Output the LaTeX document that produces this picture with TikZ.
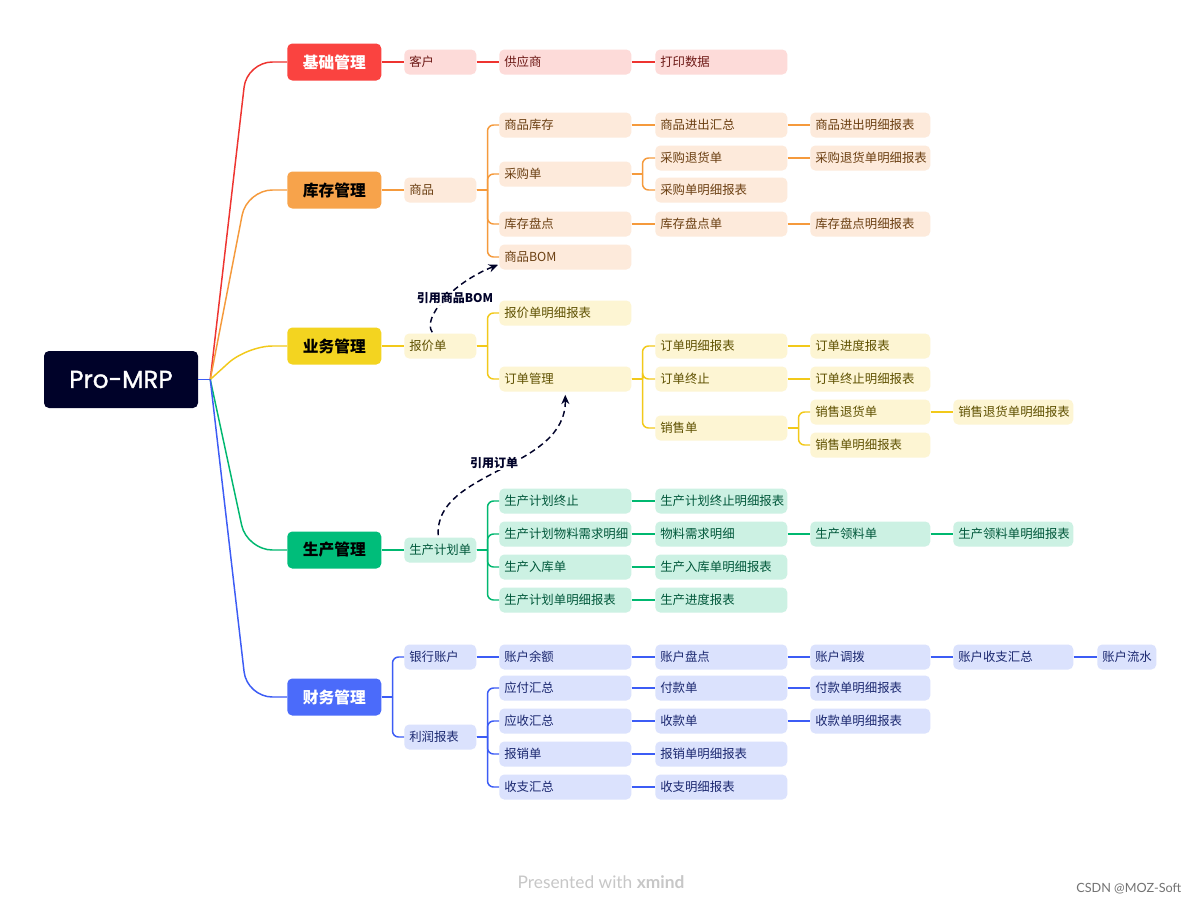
\documentclass[tikz,border=0pt]{standalone}
\usepackage{fontspec}
\setmainfont{Noto Sans CJK SC}
\newfontfamily\popf{Poppins}[FakeBold=1.3]
\newfontfamily\latf{Lato}
\usetikzlibrary{calc,arrows.meta}
\definecolor{nv}{HTML}{000229}
\definecolor{rl}{HTML}{EE3430}\definecolor{rF}{HTML}{FA4340}\definecolor{rf}{HTML}{FDDBD9}\definecolor{rt}{HTML}{6E1A17}
\definecolor{ol}{HTML}{F59A3C}\definecolor{oF}{HTML}{F7A34B}\definecolor{of}{HTML}{FDEADB}\definecolor{ot}{HTML}{6B3F12}
\definecolor{yl}{HTML}{F2C91A}\definecolor{yF}{HTML}{F3D420}\definecolor{yf}{HTML}{FDF5D3}\definecolor{yt}{HTML}{5E5000}
\definecolor{gl}{HTML}{00B870}\definecolor{gF}{HTML}{00BD7A}\definecolor{gf}{HTML}{CCF1E3}\definecolor{gt}{HTML}{00573A}
\definecolor{bl}{HTML}{3C5CF5}\definecolor{bF}{HTML}{4B6BFA}\definecolor{bf}{HTML}{DBE2FD}\definecolor{bt}{HTML}{1B2870}
\tikzset{
  lv/.style={rounded corners=3.75pt, minimum height=18.75pt, inner xsep=3.75pt, inner ysep=0pt, anchor=west, align=left, font=\fontsize{9.3}{11}\selectfont},
  cA/.style={text width=46.5pt},
  cB/.style={text width=91.5pt},
  cD/.style={text width=82.5pt},
  cF/.style={text width=36.75pt},
  Rb/.style={lv, fill=rf, text=rt}, Ob/.style={lv, fill=of, text=ot},
  Yb/.style={lv, fill=yf, text=yt}, Gb/.style={lv, fill=gf, text=gt},
  Bb/.style={lv, fill=bf, text=bt},
  L1/.style={rounded corners=3.75pt, minimum width=70.5pt, minimum height=27.75pt, inner sep=0pt, anchor=west, font=\fontsize{11.8}{13}\selectfont\bfseries},
  lnR/.style={draw=rl, line width=1.1pt}, lnO/.style={draw=ol, line width=1.1pt},
  lnY/.style={draw=yl, line width=1.1pt}, lnG/.style={draw=gl, line width=1.1pt},
  lnB/.style={draw=bl, line width=1.1pt},
  dsh/.style={draw=nv, line width=1.1pt, dash pattern=on 4.5pt off 3pt, -{Stealth[length=7pt,width=6pt]}},
  lbl/.style={fill=white, text=nv, inner sep=1pt, font=\fontsize{9}{11}\selectfont\bfseries},
}
\newcommand{\fork}[3]{\draw[#1] (#2.east) -- ++(11,0);\draw[#1,rounded corners=4.5pt] ($(#2.east)+(11,0)$) |- (#3.west);}
\newcommand{\lnk}[3]{\draw[#1] (#2.east) -- (#3.west);}
\begin{document}
\begin{tikzpicture}[x=0.75pt,y=-0.75pt]
\fill[white] (0,0) rectangle (1200,904);
\useasboundingbox (0,0) rectangle (1200,904);
% root
\node[fill=nv, rounded corners=3.75pt, minimum width=115.5pt, minimum height=42.75pt, inner sep=0pt, text=white, font=\popf\fontsize{18.5}{20}\selectfont] (root) at (121,379.5) {Pro-MRP};
% level 1
\node[L1, fill=rF, text=white] (Lr) at (287,62) {基础管理};
\node[L1, fill=oF, text=black] (Lo) at (287,190) {库存管理};
\node[L1, fill=yF, text=black] (Ly) at (287,346) {业务管理};
\node[L1, fill=gF, text=black] (Lg) at (287,550) {生产管理};
\node[L1, fill=bF, text=white] (Lb) at (287,697) {财务管理};
\coordinate (rj) at ($(root.east)+(12,0)$);
\draw[lnB] (root.east) -- (rj);
\foreach \L/\s in {Lr/lnR,Lo/lnO,Ly/lnY,Lg/lnG,Lb/lnB}{
  \draw[\s, rounded corners=19pt] (rj) -- ($(\L.west)+(-40,0)$) -- (\L.west);
}
% red
\node[Rb,cA] (r1) at (404,62) {客户};
\node[Rb,cB] (r2) at (499,62) {供应商};
\node[Rb,cB] (r3) at (655,62) {打印数据};
\lnk{lnR}{Lr}{r1}\lnk{lnR}{r1}{r2}\lnk{lnR}{r2}{r3}
% orange
\node[Ob,cA] (o1) at (404,190) {商品};
\node[Ob,cB] (o2) at (499,125) {商品库存};
\node[Ob,cB] (o3) at (655,125) {商品进出汇总};
\node[Ob,cD] (o4) at (810,125) {商品进出明细报表};
\node[Ob,cB] (o5) at (499,174) {采购单};
\node[Ob,cB] (o6) at (655,158) {采购退货单};
\node[Ob,cD] (o7) at (810,158) {采购退货单明细报表};
\node[Ob,cB] (o8) at (655,190) {采购单明细报表};
\node[Ob,cB] (o9) at (499,224) {库存盘点};
\node[Ob,cB] (o10) at (655,224) {库存盘点单};
\node[Ob,cD] (o11) at (810,224) {库存盘点明细报表};
\node[Ob,cB] (o12) at (499,257) {商品BOM};
\lnk{lnO}{Lo}{o1}
\fork{lnO}{o1}{o2}\fork{lnO}{o1}{o5}\fork{lnO}{o1}{o9}\fork{lnO}{o1}{o12}
\lnk{lnO}{o2}{o3}\lnk{lnO}{o3}{o4}
\fork{lnO}{o5}{o6}\fork{lnO}{o5}{o8}\lnk{lnO}{o6}{o7}
\lnk{lnO}{o9}{o10}\lnk{lnO}{o10}{o11}
% yellow
\node[Yb,cA] (y1) at (404,346) {报价单};
\node[Yb,cB] (y2) at (499,313) {报价单明细报表};
\node[Yb,cB] (y3) at (499,379) {订单管理};
\node[Yb,cB] (y4) at (655,346) {订单明细报表};
\node[Yb,cD] (y5) at (810,346) {订单进度报表};
\node[Yb,cB] (y6) at (655,379) {订单终止};
\node[Yb,cD] (y7) at (810,379) {订单终止明细报表};
\node[Yb,cB] (y8) at (655,428) {销售单};
\node[Yb,cD] (y9) at (810,412) {销售退货单};
\node[Yb,cD] (y10) at (953,412) {销售退货单明细报表};
\node[Yb,cD] (y11) at (810,445) {销售单明细报表};
\lnk{lnY}{Ly}{y1}
\fork{lnY}{y1}{y2}\fork{lnY}{y1}{y3}
\fork{lnY}{y3}{y4}\fork{lnY}{y3}{y6}\fork{lnY}{y3}{y8}
\lnk{lnY}{y4}{y5}\lnk{lnY}{y6}{y7}
\fork{lnY}{y8}{y9}\fork{lnY}{y8}{y11}\lnk{lnY}{y9}{y10}
% green
\node[Gb,cA] (g1) at (404,550) {生产计划单};
\node[Gb,cB] (g2) at (499,501) {生产计划终止};
\node[Gb,cB] (g3) at (655,501) {生产计划终止明细报表};
\node[Gb,cB] (g4) at (499,534) {生产计划物料需求明细};
\node[Gb,cB] (g5) at (655,534) {物料需求明细};
\node[Gb,cD] (g6) at (810,534) {生产领料单};
\node[Gb,cD] (g7) at (953,534) {生产领料单明细报表};
\node[Gb,cB] (g8) at (499,567) {生产入库单};
\node[Gb,cB] (g9) at (655,567) {生产入库单明细报表};
\node[Gb,cB] (g10) at (499,600) {生产计划单明细报表};
\node[Gb,cB] (g11) at (655,600) {生产进度报表};
\lnk{lnG}{Lg}{g1}
\fork{lnG}{g1}{g2}\fork{lnG}{g1}{g4}\fork{lnG}{g1}{g8}\fork{lnG}{g1}{g10}
\lnk{lnG}{g2}{g3}\lnk{lnG}{g4}{g5}\lnk{lnG}{g5}{g6}\lnk{lnG}{g6}{g7}
\lnk{lnG}{g8}{g9}\lnk{lnG}{g10}{g11}
% blue
\node[Bb,cA] (b1) at (404,657) {银行账户};
\node[Bb,cB] (b2) at (499,657) {账户余额};
\node[Bb,cB] (b3) at (655,657) {账户盘点};
\node[Bb,cD] (b4) at (810,657) {账户调拨};
\node[Bb,cD] (b5) at (953,657) {账户收支汇总};
\node[Bb,cF] (b6) at (1097,657) {账户流水};
\node[Bb,cA] (b7) at (404,737) {利润报表};
\node[Bb,cB] (b8) at (499,688) {应付汇总};
\node[Bb,cB] (b9) at (655,688) {付款单};
\node[Bb,cD] (b10) at (810,688) {付款单明细报表};
\node[Bb,cB] (b11) at (499,721) {应收汇总};
\node[Bb,cB] (b12) at (655,721) {收款单};
\node[Bb,cD] (b13) at (810,721) {收款单明细报表};
\node[Bb,cB] (b14) at (499,754) {报销单};
\node[Bb,cB] (b15) at (655,754) {报销单明细报表};
\node[Bb,cB] (b16) at (499,787) {收支汇总};
\node[Bb,cB] (b17) at (655,787) {收支明细报表};
\fork{lnB}{Lb}{b1}\fork{lnB}{Lb}{b7}
\lnk{lnB}{b1}{b2}\lnk{lnB}{b2}{b3}\lnk{lnB}{b3}{b4}\lnk{lnB}{b4}{b5}\lnk{lnB}{b5}{b6}
\fork{lnB}{b7}{b8}\fork{lnB}{b7}{b11}\fork{lnB}{b7}{b14}\fork{lnB}{b7}{b16}
\lnk{lnB}{b8}{b9}\lnk{lnB}{b9}{b10}\lnk{lnB}{b11}{b12}\lnk{lnB}{b12}{b13}
\lnk{lnB}{b14}{b15}\lnk{lnB}{b16}{b17}
% dashed references
\draw[dsh] ($(y1.north)+(-8,-1)$) .. controls (422,318) and (452,283) .. ($(o12.south west)+(-1,-5)$);
\node[lbl] (l1) at (455,298) {引用商品BOM};
\draw[dsh] ($(g1.north)+(-2,-2)$) .. controls (434,470) and (566,470) .. ($(y3.south)+(0,3)$);
\node[lbl] (l2) at (494,463) {引用订单};
% footer
\node[text=black!22, font=\latf\fontsize{13}{15}\selectfont] (ft) at (601,882) {Presented with \textbf{xmind}};
\node[anchor=east, text=black!55, font=\latf\fontsize{9.5}{11}\selectfont] (cs) at (1186,889) {CSDN @MOZ-Soft};
\end{tikzpicture}
\end{document}
